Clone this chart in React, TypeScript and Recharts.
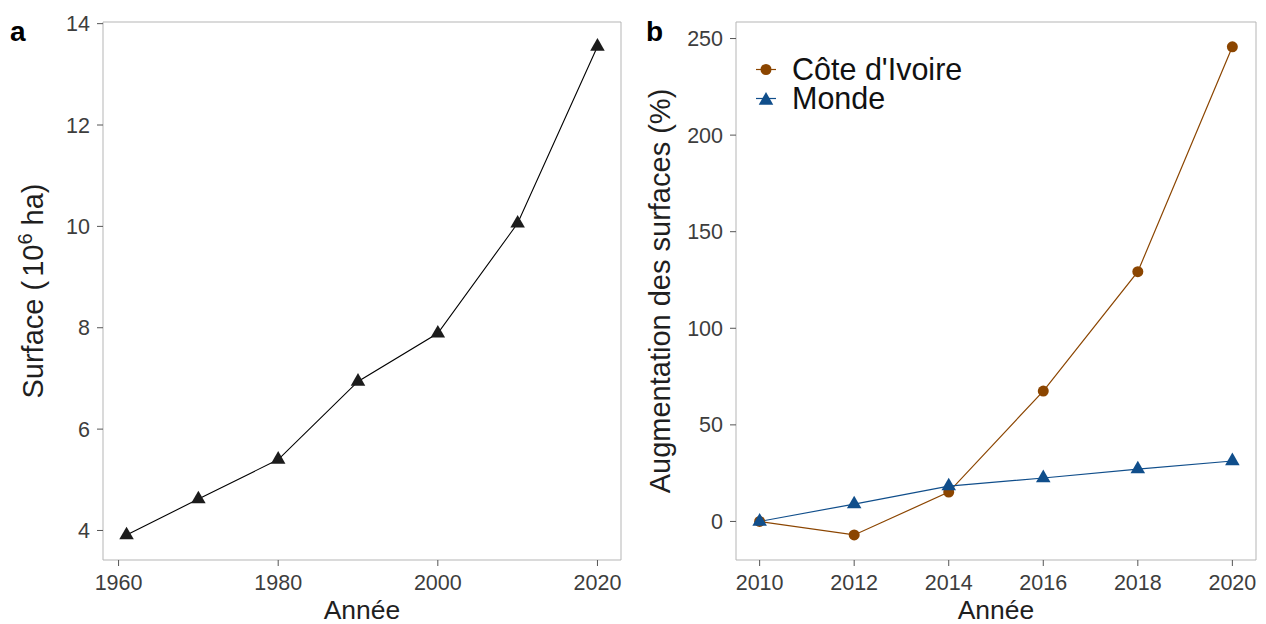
import React from "react";
import {
  LineChart,
  Line,
  XAxis,
  YAxis,
  ReferenceArea,
} from "recharts";

// Panel a: world area (10^6 ha)
const aYears = [1961, 1970, 1980, 1990, 2000, 2010, 2020];
const aSurface = [3.91, 4.62, 5.4, 6.94, 7.89, 10.06, 13.55];
const aXTicks = [1960, 1980, 2000, 2020];
const aYTicks = [4, 6, 8, 10, 12, 14];

// Panel b: increase of areas (%)
const bYears = [2010, 2012, 2014, 2016, 2018, 2020];
const bCoteIvoire = [0, -7, 15.2, 67.5, 129.3, 245.7];
const bMonde = [0, 9.0, 18.3, 22.5, 27.1, 31.3];
const bXTicks = [2010, 2012, 2014, 2016, 2018, 2020];
const bYTicks = [0, 50, 100, 150, 200, 250];
const seriesNames = ["Côte d'Ivoire", "Monde"];

const aData = aYears.map((year, i) => ({ year, surface: aSurface[i] }));
const bData = bYears.map((year, i) => ({
  year,
  ci: bCoteIvoire[i],
  monde: bMonde[i],
}));

const FONT = "'Liberation Sans', Arial, Helvetica, sans-serif";
const TICK_TEXT = "#3d3d3d";
const TITLE = "#1f1f1f";
const BORDER = "#b5b5b5";
const TICK_LINE = "#555555";
const BROWN = "#8B4500";
const BLUE = "#104E8B";

const aXDom: [number, number] = [1958.05, 2022.95];
const aYDom: [number, number] = [3.4175, 14.0325];
const bXDom: [number, number] = [2009.5, 2020.5];
const bYDom: [number, number] = [-19.96, 258.56];

function triPath(cx: number, cy: number, r: number) {
  const xc = (r * Math.sqrt(3)) / 2;
  return `M${cx},${cy - r}L${cx + xc},${cy + r / 2}L${cx - xc},${cy + r / 2}Z`;
}

const makeTriangle = (color: string) => (props: any) => {
  const { cx, cy, index } = props;
  if (cx == null || cy == null) return <g key={`t-${index}`} />;
  return <path key={`t-${index}`} d={triPath(cx, cy, 8.4)} fill={color} stroke="none" />;
};

const makeCircle = (color: string) => (props: any) => {
  const { cx, cy, index } = props;
  if (cx == null || cy == null) return <g key={`c-${index}`} />;
  return <circle key={`c-${index}`} cx={cx} cy={cy} r={5.5} fill={color} stroke="none" />;
};

const tickStyle = { fill: TICK_TEXT, fontSize: 21.5, fontFamily: FONT };

const XTitle = (props: any) => {
  const vb = props.viewBox || {};
  return (
    <text
      x={vb.x + vb.width / 2}
      y={619}
      textAnchor="middle"
      fill={TITLE}
      fontSize={26.5}
      fontFamily={FONT}
    >
      Année
    </text>
  );
};

const YTitleA = (props: any) => {
  const vb = props.viewBox || {};
  const cy = vb.y + vb.height / 2;
  const x = 43;
  return (
    <text
      transform={`translate(${x},${cy}) rotate(-90)`}
      textAnchor="middle"
      fill={TITLE}
      fontSize={29}
      fontFamily={FONT}
    >
      Surface (
      <tspan dx={4}>10</tspan>
      <tspan dy={-11} fontSize={20}>
        6
      </tspan>
      <tspan dy={11}> ha)</tspan>
    </text>
  );
};

const YTitleB = (props: any) => {
  const vb = props.viewBox || {};
  const cy = vb.y + vb.height / 2;
  const x = 670;
  return (
    <text
      transform={`translate(${x - 640},${cy}) rotate(-90)`}
      textAnchor="middle"
      fill={TITLE}
      fontSize={29}
      fontFamily={FONT}
    >
      Augmentation des surfaces (%)
    </text>
  );
};

const LegendB = () => {
  const rows = [
    { name: seriesNames[0], color: BROWN, shape: "circle" },
    { name: seriesNames[1], color: BLUE, shape: "triangle" },
  ];
  return (
    <div style={{ fontFamily: FONT }}>
      {rows.map((r) => (
        <div
          key={r.name}
          style={{ display: "flex", alignItems: "center", height: 29 }}
        >
          <svg width={24} height={29} style={{ display: "block" }}>
            <line x1={2} x2={22} y1={14.5} y2={14.5} stroke={r.color} strokeWidth={1.2} />
            {r.shape === "circle" ? (
              <circle cx={12} cy={14.5} r={5.5} fill={r.color} />
            ) : (
              <path d={triPath(12, 16.5, 8.4)} fill={r.color} />
            )}
          </svg>
          <span
            style={{
              marginLeft: 14,
              fontSize: 30.5,
              lineHeight: "27px",
              color: "#111",
              whiteSpace: "nowrap",
            }}
          >
            {r.name}
          </span>
        </div>
      ))}
    </div>
  );
};

export default function App() {
  return (
    <div
      style={{
        position: "fixed",
        left: 0,
        top: 0,
        width: 1266,
        height: 624,
        background: "#ffffff",
        overflow: "hidden",
      }}
    >
      {/* Panel a */}
      <div style={{ position: "absolute", left: 0, top: 0 }}>
        <LineChart
          width={640}
          height={624}
          data={aData}
          margin={{ top: 22, right: 19, left: 0, bottom: 0 }}
        >
          <ReferenceArea
            x1={aXDom[0]}
            x2={aXDom[1]}
            y1={aYDom[0]}
            y2={aYDom[1]}
            fill="none"
            stroke={BORDER}
            strokeWidth={1}
            ifOverflow="visible"
          />
          <XAxis
            dataKey="year"
            type="number"
            domain={aXDom}
            ticks={aXTicks}
            allowDataOverflow
            axisLine={false}
            tickLine={{ stroke: TICK_LINE }}
            tickSize={6}
            tickMargin={9}
            tick={tickStyle}
            height={64}
            label={<XTitle />}
          />
          <YAxis
            type="number"
            domain={aYDom}
            ticks={aYTicks}
            allowDataOverflow
            axisLine={false}
            tickLine={{ stroke: TICK_LINE }}
            tickSize={6}
            tickMargin={7}
            tick={tickStyle}
            width={103}
            label={<YTitleA />}
          />
          <Line
            dataKey="surface"
            stroke="#000000"
            strokeWidth={1.1}
            dot={makeTriangle("#1c1c1c")}
            activeDot={false}
            isAnimationActive={false}
          />
        </LineChart>
        <div
          style={{
            position: "absolute",
            left: 10,
            top: 17,
            fontFamily: FONT,
            fontWeight: "bold",
            fontSize: 28,
            color: "#000",
            lineHeight: "30px",
          }}
        >
          a
        </div>
      </div>

      {/* Panel b */}
      <div style={{ position: "absolute", left: 640, top: 0 }}>
        <LineChart
          width={626}
          height={624}
          data={bData}
          margin={{ top: 22, right: 10, left: 0, bottom: 0 }}
        >
          <ReferenceArea
            x1={bXDom[0]}
            x2={bXDom[1]}
            y1={bYDom[0]}
            y2={bYDom[1]}
            fill="none"
            stroke={BORDER}
            strokeWidth={1}
            ifOverflow="visible"
          />
          <XAxis
            dataKey="year"
            type="number"
            domain={bXDom}
            ticks={bXTicks}
            allowDataOverflow
            axisLine={false}
            tickLine={{ stroke: TICK_LINE }}
            tickSize={6}
            tickMargin={9}
            tick={tickStyle}
            height={64}
            label={<XTitle />}
          />
          <YAxis
            type="number"
            domain={bYDom}
            ticks={bYTicks}
            allowDataOverflow
            axisLine={false}
            tickLine={{ stroke: TICK_LINE }}
            tickSize={6}
            tickMargin={7}
            tick={tickStyle}
            width={96}
            label={<YTitleB />}
          />
          <Line
            dataKey="ci"
            name={seriesNames[0]}
            stroke={BROWN}
            strokeWidth={1.2}
            dot={makeCircle(BROWN)}
            activeDot={false}
            isAnimationActive={false}
          />
          <Line
            dataKey="monde"
            name={seriesNames[1]}
            stroke={BLUE}
            strokeWidth={1.2}
            dot={makeTriangle(BLUE)}
            activeDot={false}
            isAnimationActive={false}
          />
        </LineChart>
        <div style={{ position: "absolute", left: 114, top: 54.5 }}>
          <LegendB />
        </div>
        <div
          style={{
            position: "absolute",
            left: 6,
            top: 17,
            fontFamily: FONT,
            fontWeight: "bold",
            fontSize: 28,
            color: "#000",
            lineHeight: "30px",
          }}
        >
          b
        </div>
      </div>
    </div>
  );
}
